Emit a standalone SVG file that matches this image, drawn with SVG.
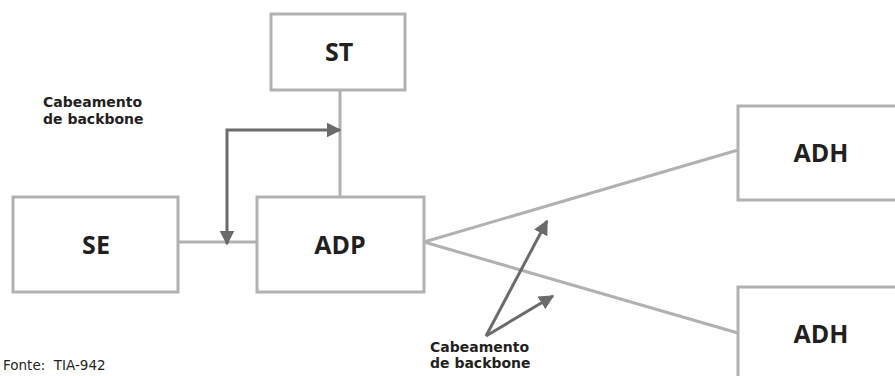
<svg xmlns="http://www.w3.org/2000/svg" width="895" height="376" viewBox="0 0 895 376">
  <style>
    .box { fill: #ffffff; stroke: #b1b1b1; stroke-width: 3; }
    .link { fill: none; stroke: #b1b1b1; stroke-width: 3; }
    .cable { fill: none; stroke: #6b6b6b; stroke-width: 3; }
    .name { font-family: "Open Sans", "Liberation Sans", sans-serif; font-weight: 700; font-size: 25px; fill: #231f20; text-anchor: middle; }
    .note { font-family: "DejaVu Sans", "Liberation Sans", sans-serif; font-weight: 700; font-size: 14px; fill: #231f20; }
    .source { font-family: "DejaVu Sans", "Liberation Sans", sans-serif; font-size: 13.5px; fill: #231f20; }
  </style>
  <defs>
    <marker id="head" viewBox="0 0 10 10" refX="9" refY="5" markerWidth="5" markerHeight="5.5" markerUnits="strokeWidth" orient="auto-start-reverse">
      <path d="M0,0 L10,5 L0,10 Z" fill="#6b6b6b"/>
    </marker>
  </defs>

  <!-- cabling between rooms -->
  <g id="connectors">
    <line class="link" x1="340" y1="90" x2="340" y2="197"/>
    <line class="link" x1="178" y1="242" x2="257" y2="242"/>
    <line class="link" x1="424" y1="242" x2="738" y2="150"/>
    <line class="link" x1="424" y1="242" x2="738" y2="333"/>
    <polyline class="cable" points="227,244 227,130 340,130" marker-start="url(#head)" marker-end="url(#head)"/>
    <line class="cable" x1="486" y1="336" x2="547" y2="221" marker-end="url(#head)"/>
    <line class="cable" x1="486" y1="336" x2="553" y2="296" marker-end="url(#head)"/>
  </g>

  <g id="st">
    <rect class="box" x="271" y="14" width="134" height="76"/>
    <text class="name" x="339" y="61">ST</text>
  </g>
  <g id="se">
    <rect class="box" x="13" y="197" width="165" height="95"/>
    <text class="name" x="96" y="254">SE</text>
  </g>
  <g id="adp">
    <rect class="box" x="257" y="197" width="167" height="95"/>
    <text class="name" x="340" y="254">ADP</text>
  </g>
  <g id="adh-1">
    <rect class="box" x="738" y="106" width="170" height="94"/>
    <text class="name" x="821" y="162">ADH</text>
  </g>
  <g id="adh-2">
    <rect class="box" x="738" y="287" width="170" height="100"/>
    <text class="name" x="821" y="343">ADH</text>
  </g>

  <g id="labels">
    <text class="note" x="43" y="107">Cabeamento</text>
    <text class="note" x="43" y="124">de backbone</text>
    <text class="note" x="430" y="352">Cabeamento</text>
    <text class="note" x="430" y="368">de backbone</text>
    <text class="source" x="3" y="370">Fonte:&#160; TIA-942</text>
  </g>
</svg>
